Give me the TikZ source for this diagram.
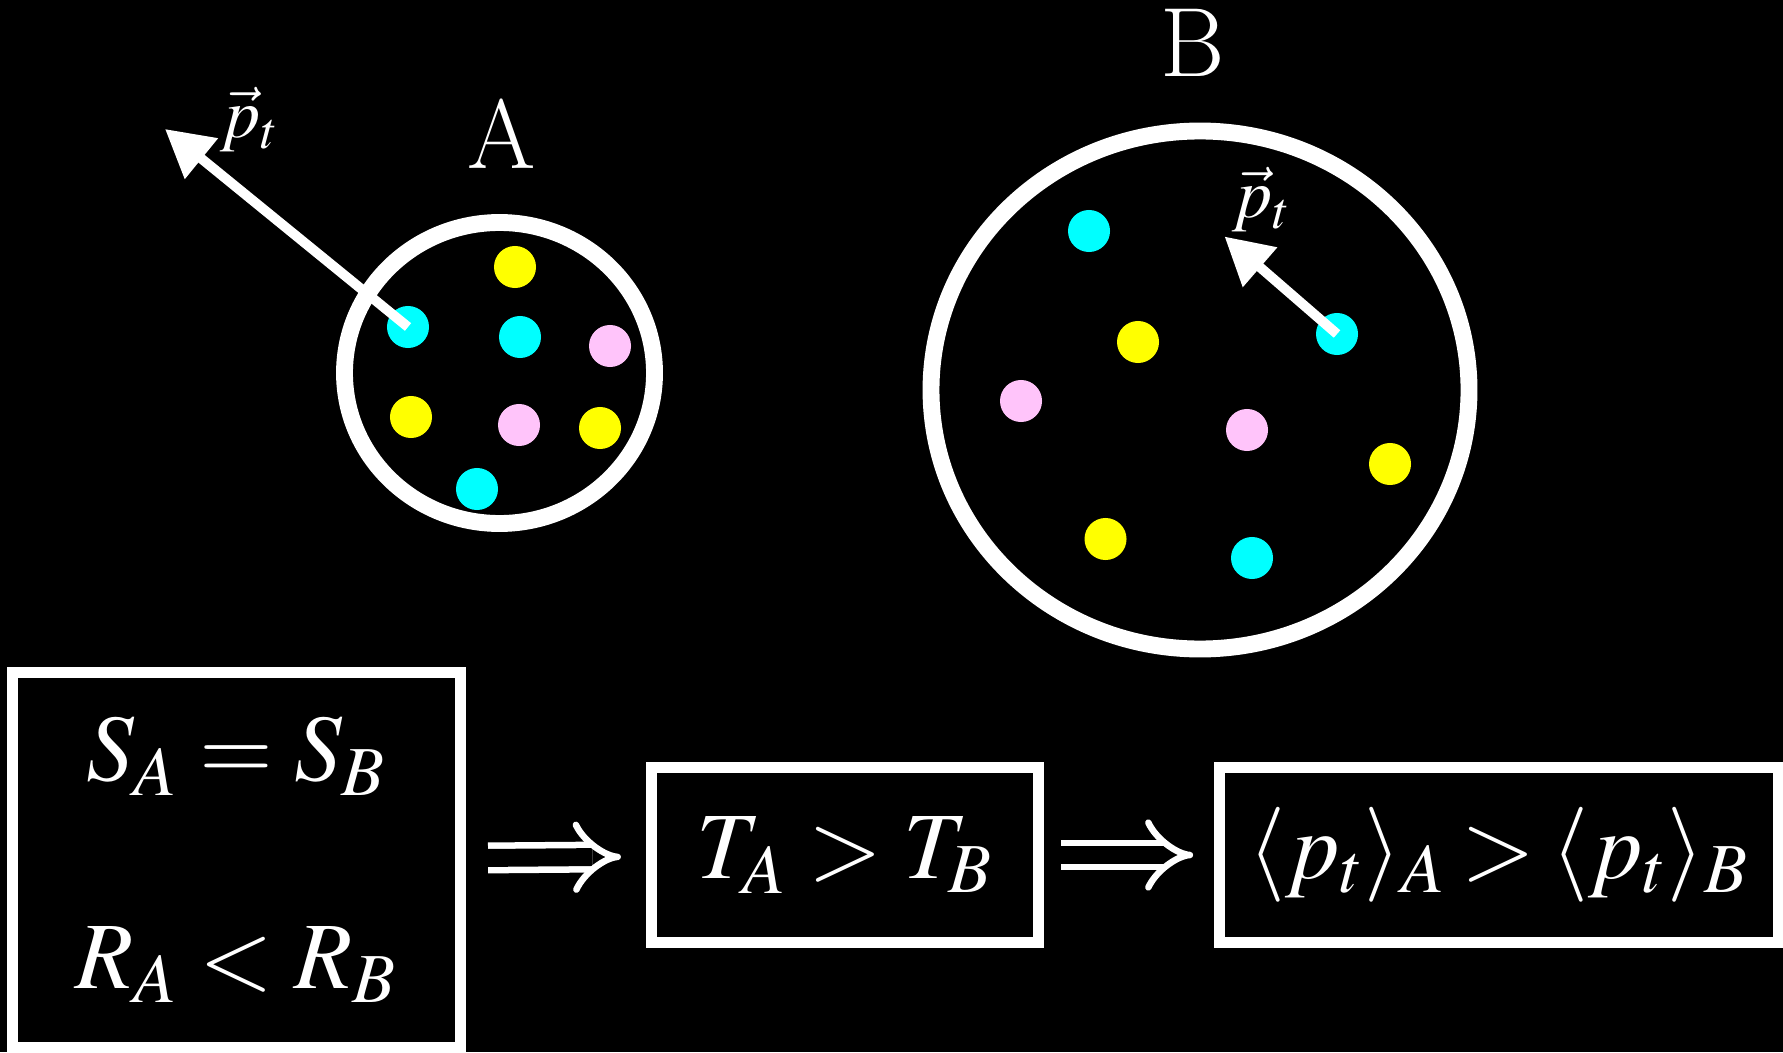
\documentclass[tikz,border=0pt]{standalone}
\usepackage{mathptmx}
\usetikzlibrary{arrows.meta,positioning}
\definecolor{dotcyan}{RGB}{0,255,255}
\definecolor{dotyellow}{RGB}{255,255,0}
\definecolor{dotpink}{RGB}{255,196,250}

\begin{document}
\begin{tikzpicture}[
  x=0.01cm, y=-0.01cm,
  vessel/.style={draw=white, line width=4.8pt},
  dot/.style={circle, inner sep=0pt, minimum size=0.42cm},
  cyd/.style={dot, fill=dotcyan},
  yed/.style={dot, fill=dotyellow},
  pkd/.style={dot, fill=dotpink},
  mom/.style={white, line width=2.8pt, -{Triangle[length=0.47cm, width=0.5cm]}},
  lbl/.style={text=white, font=\fontsize{28}{32}\selectfont, inner sep=0pt},
  veclbl/.style={text=white, font=\fontsize{20}{24}\selectfont, inner sep=0pt},
  eqbox/.style={draw=white, line width=3.1pt, text=white, align=center,
    font=\fontsize{27}{32}\selectfont, inner sep=0pt},
  impl/.style={white, line width=1.85pt, double=black, double distance=5.1pt, -{Implies}},
]
  \fill[black] (0,0) rectangle (1783,1052);
  \useasboundingbox (0,0) rectangle (1783,1052);

  % gas A
  \draw[vessel] (499.5,373) ellipse [x radius=155, y radius=150.5];
  \node[lbl] (labA) at (502,134) {A};
  \node[yed] (yA1) at (515,267) {};
  \node[cyd] (cA1) at (408,327) {};
  \node[cyd] (cA2) at (520,337) {};
  \node[pkd] (pA1) at (610,346) {};
  \node[yed] (yA2) at (411,417) {};
  \node[pkd] (pA2) at (519,425) {};
  \node[yed] (yA3) at (600,428) {};
  \node[cyd] (cA3) at (477,489) {};
  \coordinate (tipA) at (165,129);
  \draw[mom] (cA1.center) -- (tipA);
  \node[veclbl] (ptA) at (250,120) {$\vec{p}_t$};

  % gas B
  \draw[vessel] (1200,390) ellipse [x radius=269, y radius=259];
  \node[lbl] (labB) at (1193,43) {B};
  \node[cyd] (cB1) at (1089,231) {};
  \node[yed] (yB1) at (1138,342) {};
  \node[cyd] (cB2) at (1337,334) {};
  \node[pkd] (pB1) at (1021,401) {};
  \node[pkd] (pB2) at (1247,430) {};
  \node[yed] (yB2) at (1390,464) {};
  \node[yed] (yB3) at (1105.5,539) {};
  \node[cyd] (cB3) at (1252,558) {};
  \coordinate (tipB) at (1224.5,236.5);
  \draw[mom] (cB2.center) -- (tipB);
  \node[veclbl] (ptB) at (1262,200) {$\vec{p}_t$};

  % chain of conclusions
  \node[eqbox, minimum width=4.48cm, minimum height=3.745cm] (same) at (236.5,860)
    {$S_A = S_B$\\[27pt]$R_A < R_B$};
  \node[eqbox, minimum width=3.87cm, minimum height=1.75cm] (temp) at (845,855)
    {$T_A > T_B$};
  \node[eqbox, minimum width=5.58cm, minimum height=1.75cm, right=1.7cm of temp] (mean)
    {$\thickmuskip=3mu \langle p_t\rangle_A > \langle p_t\rangle_B$};

  \draw[impl, shorten <=0.22cm, shorten >=0.25cm] (same) -- (temp);
  \draw[impl, shorten <=0.17cm, shorten >=0.21cm] (temp) -- (mean);
\end{tikzpicture}
\end{document}
